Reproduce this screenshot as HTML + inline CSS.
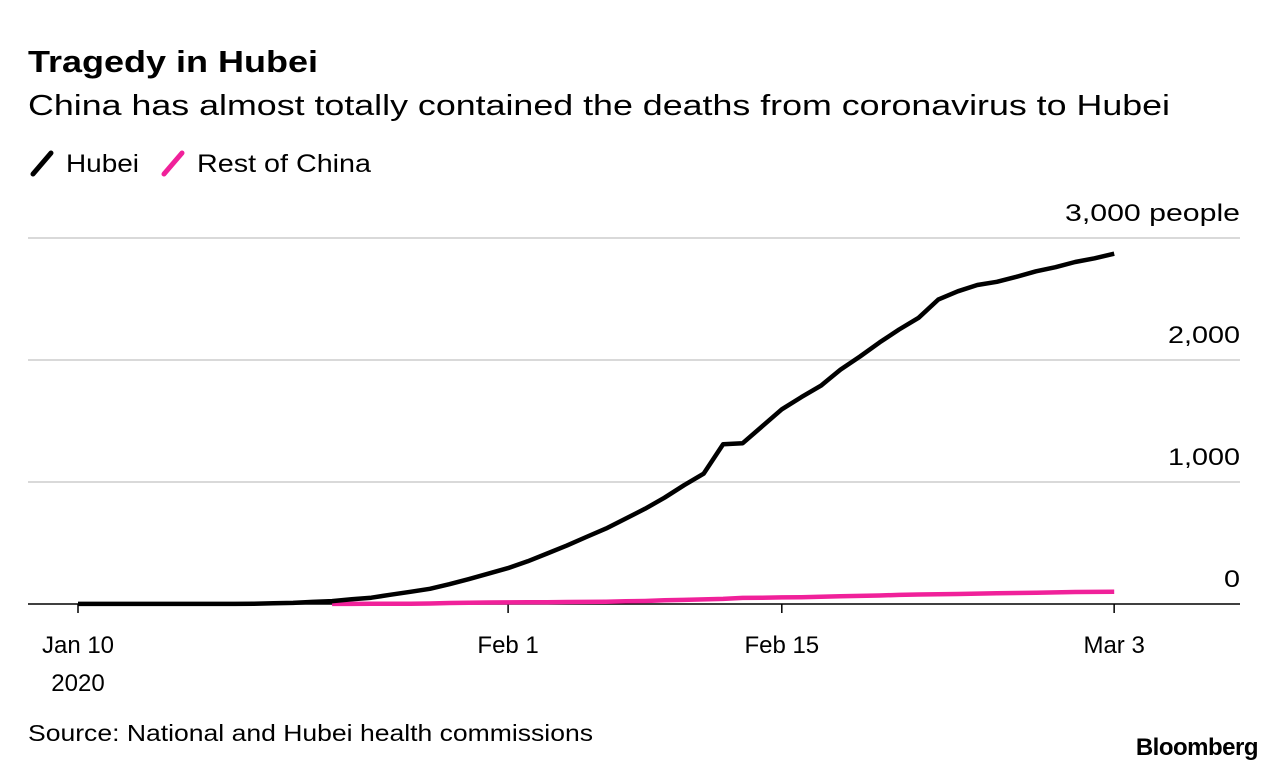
<!DOCTYPE html>
<html><head><meta charset="utf-8"><style>
body{margin:0;background:#fff;font-family:"Liberation Sans",sans-serif;}
svg{display:block}
</style></head><body>
<svg width="1286" height="772" viewBox="0 0 1286 772" font-family="Liberation Sans, sans-serif">
<text x="28" y="72" font-size="31" font-weight="bold" fill="#000" textLength="290" lengthAdjust="spacingAndGlyphs">Tragedy in Hubei</text>
<text x="28" y="115" font-size="29" fill="#000" textLength="1142" lengthAdjust="spacingAndGlyphs">China has almost totally contained the deaths from coronavirus to Hubei</text>
<g>
<line x1="33" y1="174" x2="51" y2="153" stroke="#000" stroke-width="5" stroke-linecap="round"/>
<text x="66" y="172" font-size="25" textLength="73" lengthAdjust="spacingAndGlyphs">Hubei</text>
<line x1="164" y1="174" x2="182" y2="153" stroke="#f0219a" stroke-width="5" stroke-linecap="round"/>
<text x="197" y="172" font-size="25" textLength="174" lengthAdjust="spacingAndGlyphs">Rest of China</text>
</g>
<g id="grid"></g>
<g id="xaxis"></g>
<g id="series"></g>
<text x="28" y="741" font-size="23" textLength="565" lengthAdjust="spacingAndGlyphs">Source: National and Hubei health commissions</text>
<text x="1258" y="755" font-size="24" font-weight="bold" text-anchor="end" letter-spacing="-0.5">Bloomberg</text>
</svg>
<script>
const yTicks=[0,1000,2000,3000];
const yTickLabels=["0","1,000","2,000","3,000 people"];
const yLabelWidths=[16,72,72,175];
const xTickDays=[0,22,36,53];
const xTickLabels=["Jan 10","Feb 1","Feb 15","Mar 3"];
const hubeiStartDay=0;
const hubei=[1,1,1,1,1,1,1,1,1,2,6,9,17,24,39,52,76,100,125,162,204,249,294,350,414,479,549,618,699,780,871,974,1068,1310,1318,1457,1596,1696,1789,1921,2029,2144,2250,2346,2495,2563,2615,2641,2682,2727,2761,2803,2834,2871];
const restStartDay=13;
const rest=[1,1,2,2,2,4,8,10,12,13,14,15,16,17,18,22,25,30,34,38,42,50,52,54,56,60,63,66,70,75,78,80,82,85,88,90,92,95,98,99,100];
const ns="http://www.w3.org/2000/svg";
const X=d=>78+d*19.55;
const Y=v=>604-v*0.122;
function mk(t,a,p){const e=document.createElementNS(ns,t);for(const k in a)e.setAttribute(k,a[k]);p.appendChild(e);return e;}
const grid=document.getElementById('grid');
yTicks.forEach((v,i)=>{
 const l=mk('line',{x1:28,x2:1240,y1:Y(v),y2:Y(v),stroke:v===0?'#000':'#d9d9d9','stroke-width':v===0?1.5:2},grid);
 
 
 const t=mk('text',{x:1240-yLabelWidths[i],y:Y(v)-17,'font-size':24,textLength:yLabelWidths[i],lengthAdjust:'spacingAndGlyphs'},grid);
 t.textContent=yTickLabels[i];
 
 
});
const xa=document.getElementById('xaxis');
xTickDays.forEach((d,i)=>{
 const l=mk('line',{x1:X(d),x2:X(d),y1:604,y2:613,stroke:'#000','stroke-width':1.5},xa);
 
 
 const t=mk('text',{x:X(d),y:653,'font-size':24,'text-anchor':'middle'},xa);
 t.textContent=xTickLabels[i];
 
 
});
const yr=mk('text',{x:X(0),y:691,'font-size':24,'text-anchor':'middle'},xa);
yr.textContent="2020";


const s=document.getElementById('series');
function line(arr,start,color,name){
 const d=arr.map((v,i)=>(i?'L':'M')+X(start+i).toFixed(1)+','+Y(v).toFixed(1)).join('');
 const p=mk('path',{d:d,fill:'none',stroke:color,'stroke-width':4.5,'stroke-linejoin':'round'},s);
 
 
}
line(rest,restStartDay,'#f0219a','rest-of-china-line');
line(hubei,hubeiStartDay,'#000','hubei-line');
</script>
</body></html>
